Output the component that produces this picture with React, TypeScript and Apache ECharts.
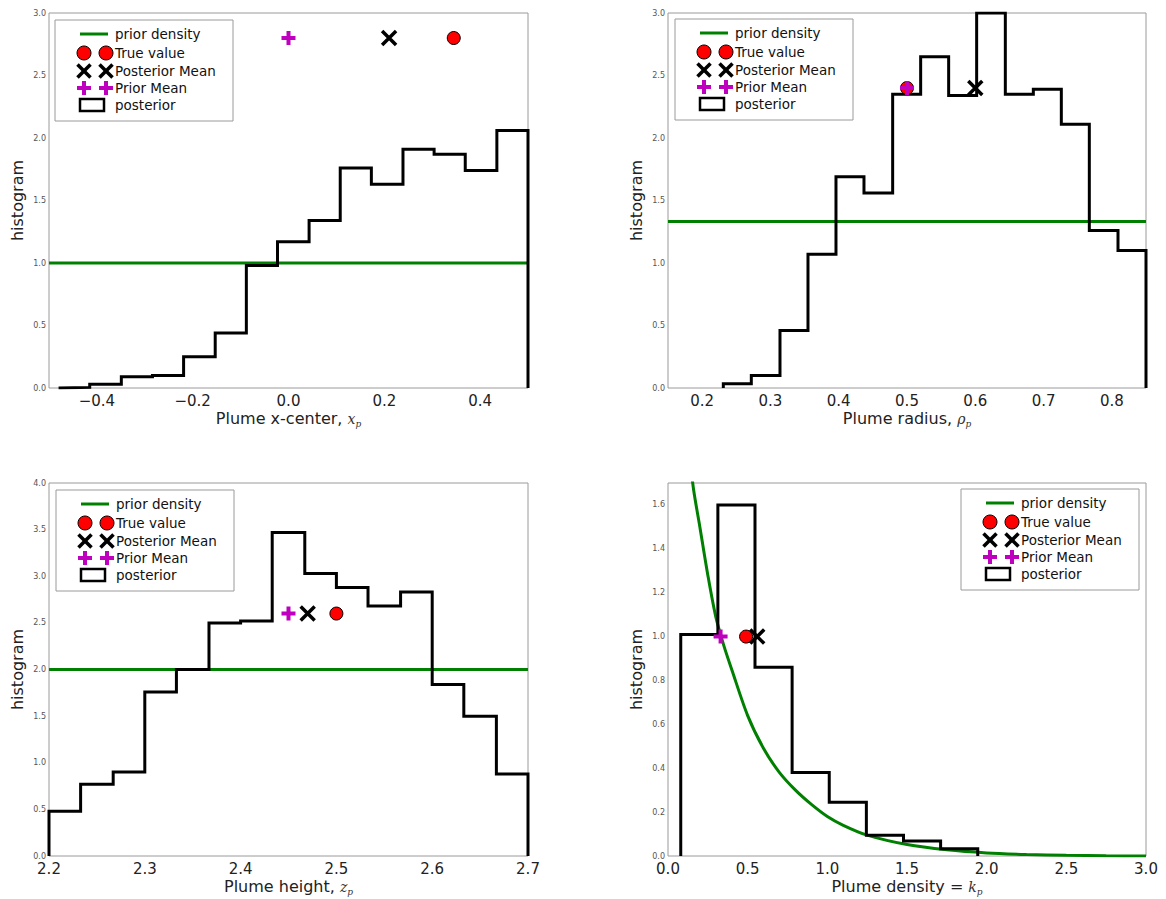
import React, { useEffect, useRef } from "react";
import * as echarts from "echarts";

// ---------- Plume x-center ----------
const xcRange = [-0.5, 0.5];
const xcEdges = [-0.48, -0.415, -0.349, -0.284, -0.219, -0.153, -0.088, -0.023, 0.043, 0.108, 0.173, 0.239, 0.304, 0.369, 0.435, 0.5];
const xcHist = [0.005, 0.03, 0.09, 0.1, 0.25, 0.44, 0.98, 1.17, 1.34, 1.76, 1.63, 1.91, 1.87, 1.74, 2.06];
const xcPriorDensity = [[-0.5, 1.0], [0.5, 1.0]];
const xcTrue = [0.345, 2.8];
const xcPostMean = [0.21, 2.8];
const xcPriorMean = [0.0, 2.8];

// ---------- Plume radius ----------
const radRange = [0.15, 0.85];
const radEdges = [0.231, 0.272, 0.314, 0.355, 0.396, 0.437, 0.479, 0.52, 0.561, 0.602, 0.644, 0.685, 0.726, 0.767, 0.809, 0.85];
const radHist = [0.035, 0.1, 0.46, 1.07, 1.69, 1.56, 2.35, 2.65, 2.34, 3.0, 2.35, 2.39, 2.11, 1.26, 1.1];
const radPriorDensity = [[0.15, 1.333], [0.85, 1.333]];
const radTrue = [0.5, 2.4];
const radPostMean = [0.6, 2.4];
const radPriorMean = [0.5, 2.4];

// ---------- Plume height ----------
const hRange = [2.2, 2.7];
const hEdges = [2.2, 2.233, 2.267, 2.3, 2.333, 2.367, 2.4, 2.433, 2.467, 2.5, 2.533, 2.567, 2.6, 2.633, 2.667, 2.7];
const hHist = [0.48, 0.77, 0.9, 1.76, 2.0, 2.5, 2.52, 3.47, 3.03, 2.88, 2.68, 2.83, 1.84, 1.5, 0.88];
const hPriorDensity = [[2.2, 2.0], [2.7, 2.0]];
const hTrue = [2.5, 2.6];
const hPostMean = [2.47, 2.6];
const hPriorMean = [2.45, 2.6];

// ---------- Plume density ----------
const kRange = [0, 3];
const kEdges = [0.08, 0.313, 0.546, 0.779, 1.012, 1.245, 1.478, 1.711, 1.944];
const kHist = [1.01, 1.6, 0.86, 0.38, 0.245, 0.095, 0.068, 0.033];
const kPriorX = [0.12, 0.155, 0.2, 0.25, 0.3, 0.35, 0.4, 0.5, 0.6, 0.7, 0.8, 0.9, 1.0, 1.1, 1.25, 1.5, 1.75, 2.0, 2.25, 2.5, 2.75, 3.0];
const kPriorY = [2.0, 1.7, 1.5, 1.28, 1.09, 0.96, 0.85, 0.64, 0.49, 0.38, 0.3, 0.235, 0.18, 0.14, 0.095, 0.052, 0.028, 0.014, 0.007, 0.003, 0.001, 0.0];
const kTrue = [0.49, 1.0];
const kPostMean = [0.56, 1.0];
const kPriorMean = [0.33, 1.0];

const legendLabels = ["prior density", "True value", "Posterior Mean", "Prior Mean", "posterior"];

const GREEN = "#008000";
const MAGENTA = "#bf00bf";
const RED = "#ff0000";
const FONT = "DejaVu Sans";

const X_PATH = "path://M0,0L1,1M1,0L0,1";
const PLUS_PATH = "path://M0.5,0L0.5,1M0,0.5L1,0.5";

// histogram outline drawn as a step line through the bin edges
function stepPoints(edges: number[], heights: number[]) {
  const pts: number[][] = [[edges[0], 0]];
  heights.forEach((h, i) => pts.push([edges[i], h]));
  const n = heights.length;
  pts.push([edges[n], heights[n - 1]]);
  pts.push([edges[n], 0]);
  return pts;
}

const fmt1 = (v: number) => (v < -1e-9 ? "\u2212" : "") + Math.abs(v).toFixed(1);

type Panel = {
  grid: { left: number; top: number; width: number; height: number };
  xRange: number[];
  xInterval: number;
  xFormatter: (v: number) => string;
  yMax: number;
  yInterval: number;
  showMaxY: boolean;
  xName: string;
  edges: number[];
  hist: number[];
  prior: number[][];
  smoothPrior: boolean;
  truth: number[];
  post: number[];
  priorMean: number[];
  legend: { x: number; y: number };
};

const panels: Panel[] = [
  {
    grid: { left: 49, top: 13, width: 479, height: 375 },
    xRange: xcRange,
    xInterval: 0.1,
    xFormatter: (v) => {
      const k = Math.round(v * 10);
      return k % 2 !== 0 || Math.abs(k) >= 5 ? "" : fmt1(k / 10);
    },
    yMax: 3,
    yInterval: 0.5,
    showMaxY: true,
    xName: "Plume x-center, {m|x}{s|p}",
    edges: xcEdges,
    hist: xcHist,
    prior: xcPriorDensity,
    smoothPrior: false,
    truth: xcTrue,
    post: xcPostMean,
    priorMean: xcPriorMean,
    legend: { x: 55, y: 20 },
  },
  {
    grid: { left: 668, top: 13, width: 478, height: 375 },
    xRange: radRange,
    xInterval: 0.05,
    xFormatter: (v) => {
      const k = Math.round(v * 100);
      return k % 10 === 0 ? (k / 100).toFixed(1) : "";
    },
    yMax: 3,
    yInterval: 0.5,
    showMaxY: true,
    xName: "Plume radius, {m|\u03c1}{s|p}",
    edges: radEdges,
    hist: radHist,
    prior: radPriorDensity,
    smoothPrior: false,
    truth: radTrue,
    post: radPostMean,
    priorMean: radPriorMean,
    legend: { x: 675, y: 19 },
  },
  {
    grid: { left: 49, top: 483, width: 479, height: 373 },
    xRange: hRange,
    xInterval: 0.1,
    xFormatter: (v) => v.toFixed(1),
    yMax: 4,
    yInterval: 0.5,
    showMaxY: true,
    xName: "Plume height, {m|z}{s|p}",
    edges: hEdges,
    hist: hHist,
    prior: hPriorDensity,
    smoothPrior: false,
    truth: hTrue,
    post: hPostMean,
    priorMean: hPriorMean,
    legend: { x: 56, y: 490 },
  },
  {
    grid: { left: 668, top: 483, width: 478, height: 373 },
    xRange: kRange,
    xInterval: 0.5,
    xFormatter: (v) => v.toFixed(1),
    yMax: 1.7,
    yInterval: 0.2,
    showMaxY: false,
    xName: "Plume density = {m|k}{s|p}",
    edges: kEdges,
    hist: kHist,
    prior: kPriorX.map((x, i) => [x, kPriorY[i]]),
    smoothPrior: true,
    truth: kTrue,
    post: kPostMean,
    priorMean: kPriorMean,
    legend: { x: 961, y: 489 },
  },
];

function legendGroup(x: number, y: number) {
  const rows = [14, 33, 51, 68, 85];
  const hx = [29, 51];
  const children: any[] = [
    {
      type: "rect",
      shape: { x: 0, y: 0, width: 178, height: 101 },
      style: { fill: "#fff", stroke: "#9a9a9a", lineWidth: 1 },
    },
    {
      type: "line",
      shape: { x1: 25, y1: rows[0], x2: 53, y2: rows[0] },
      style: { stroke: GREEN, lineWidth: 3 },
    },
    {
      type: "rect",
      shape: { x: 25, y: rows[4] - 6, width: 24, height: 12 },
      style: { fill: "#fff", stroke: "#000", lineWidth: 2.5 },
    },
  ];
  hx.forEach((cx) => {
    children.push({
      type: "circle",
      shape: { cx, cy: rows[1], r: 7 },
      style: { fill: RED, stroke: "#000", lineWidth: 1 },
    });
    children.push(
      { type: "line", shape: { x1: cx - 6.5, y1: rows[2] - 6.5, x2: cx + 6.5, y2: rows[2] + 6.5 }, style: { stroke: "#000", lineWidth: 3.5 } },
      { type: "line", shape: { x1: cx - 6.5, y1: rows[2] + 6.5, x2: cx + 6.5, y2: rows[2] - 6.5 }, style: { stroke: "#000", lineWidth: 3.5 } },
      { type: "line", shape: { x1: cx - 7, y1: rows[3], x2: cx + 7, y2: rows[3] }, style: { stroke: MAGENTA, lineWidth: 4 } },
      { type: "line", shape: { x1: cx, y1: rows[3] - 7, x2: cx, y2: rows[3] + 7 }, style: { stroke: MAGENTA, lineWidth: 4 } }
    );
  });
  legendLabels.forEach((t, i) => {
    children.push({
      type: "text",
      x: 60,
      y: rows[i],
      style: { text: t, fontFamily: FONT, fontSize: 13.5, fill: "#111", verticalAlign: "middle", align: "left" },
    });
  });
  return { type: "group", x, y, z: 100, children };
}

function buildOption() {
  const grid: any[] = [];
  const xAxis: any[] = [];
  const yAxis: any[] = [];
  const series: any[] = [];
  const graphic: any[] = [];

  panels.forEach((p, i) => {
    grid.push({ ...p.grid, show: true, borderColor: "#9a9a9a", borderWidth: 1, backgroundColor: "transparent" });
    xAxis.push({
      type: "value",
      gridIndex: i,
      min: p.xRange[0],
      max: p.xRange[1],
      interval: p.xInterval,
      axisLine: { show: false },
      axisTick: { show: false },
      splitLine: { show: false },
      axisLabel: {
        formatter: p.xFormatter,
        fontFamily: FONT,
        fontSize: 15,
        color: "#222",
        margin: 5,
        showMinLabel: true,
        showMaxLabel: true,
      },
      name: p.xName,
      nameLocation: "middle",
      nameGap: 17,
      nameTextStyle: {
        fontFamily: FONT,
        fontSize: 16,
        color: "#222",
        lineHeight: 20,
        verticalAlign: "top",
        rich: {
          m: { fontFamily: "DejaVu Serif", fontStyle: "italic", fontSize: 14, color: "#333", lineHeight: 20 },
          s: { fontFamily: "DejaVu Serif", fontStyle: "italic", fontSize: 9, color: "#333", lineHeight: 10, verticalAlign: "bottom" },
        },
      },
    });
    yAxis.push({
      type: "value",
      gridIndex: i,
      min: 0,
      max: p.yMax,
      interval: p.yInterval,
      axisLine: { show: false },
      axisTick: { show: false },
      splitLine: { show: false },
      axisLabel: {
        formatter: (v: number) => v.toFixed(1),
        fontFamily: FONT,
        fontSize: 8,
        color: "#555",
        margin: 3,
        showMaxLabel: p.showMaxY,
      },
      name: "histogram",
      nameLocation: "middle",
      nameGap: 24,
      nameTextStyle: { fontFamily: FONT, fontSize: 16, color: "#222" },
    });

    series.push({
      type: "line",
      name: "prior density",
      xAxisIndex: i,
      yAxisIndex: i,
      data: p.prior,
      showSymbol: false,
      symbol: "none",
      smooth: p.smoothPrior ? 0.3 : false,
      lineStyle: { color: GREEN, width: 3 },
      clip: true,
      z: 2,
    });
    series.push({
      type: "line",
      name: "posterior",
      xAxisIndex: i,
      yAxisIndex: i,
      data: stepPoints(p.edges, p.hist),
      step: "end",
      symbol: "none",
      showSymbol: false,
      lineStyle: { color: "#000", width: 3, join: "miter" },
      clip: true,
      z: 3,
    });
    series.push({
      type: "scatter",
      name: "True value",
      xAxisIndex: i,
      yAxisIndex: i,
      data: [p.truth],
      symbol: "circle",
      symbolSize: 13,
      itemStyle: { color: RED, borderColor: "#000", borderWidth: 1, opacity: 1 },
      z: 4,
    });
    series.push({
      type: "scatter",
      name: "Posterior Mean",
      xAxisIndex: i,
      yAxisIndex: i,
      data: [p.post],
      symbol: X_PATH,
      symbolSize: 14,
      itemStyle: { color: "rgba(0,0,0,0)", borderColor: "#000", borderWidth: 3.5, opacity: 1 },
      z: 5,
    });
    series.push({
      type: "scatter",
      name: "Prior Mean",
      xAxisIndex: i,
      yAxisIndex: i,
      data: [p.priorMean],
      symbol: PLUS_PATH,
      symbolSize: 14,
      itemStyle: { color: "rgba(0,0,0,0)", borderColor: MAGENTA, borderWidth: 4, opacity: 1 },
      z: 6,
    });

    graphic.push(legendGroup(p.legend.x, p.legend.y));
  });

  return {
    animation: false,
    backgroundColor: "#ffffff",
    textStyle: { fontFamily: FONT },
    grid,
    xAxis,
    yAxis,
    series,
    graphic,
  };
}

export default function App() {
  const ref = useRef<HTMLDivElement>(null);
  useEffect(() => {
    if (!ref.current) return;
    const chart = echarts.init(ref.current, undefined, { renderer: "svg" });
    chart.setOption(buildOption());
    return () => chart.dispose();
  }, []);
  return (
    <div
      ref={ref}
      style={{ position: "absolute", left: 0, top: 0, width: 1166, height: 899, background: "#fff" }}
    />
  );
}
